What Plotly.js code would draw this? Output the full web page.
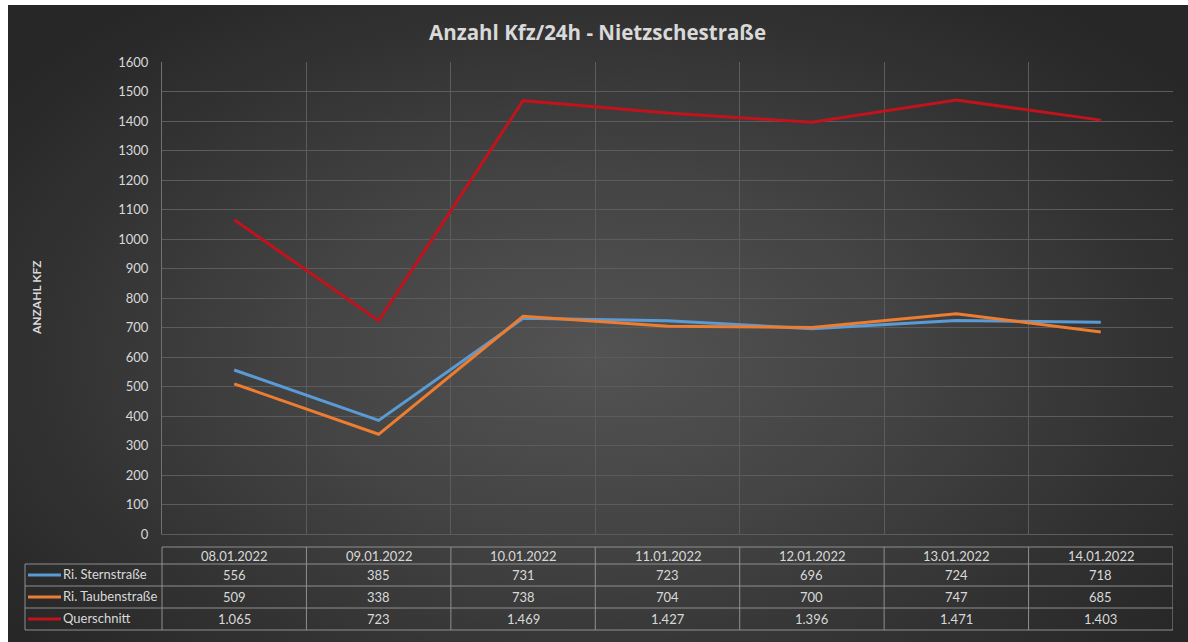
<!DOCTYPE html>
<html><head><meta charset="utf-8">
<script src="https://cdn.plot.ly/plotly-3.0.1.min.js"></script>
<style>
html,body{margin:0;padding:0;background:#fff;}
#bg{position:absolute;left:8px;top:5px;width:1180px;height:637px;
background:radial-gradient(ellipse 62% 70% at 50% 55%, #535353 0%, #444444 40%, #323232 75%, #272727 100%);}
#chart{position:absolute;left:0;top:0;width:1188px;height:642px;}
</style></head>
<body><div id="bg"></div><div id="chart"></div>
<script>
const categories = ["08.01.2022","09.01.2022","10.01.2022","11.01.2022","12.01.2022","13.01.2022","14.01.2022"];
const sternValues = [556,385,731,723,696,724,718];
const taubenValues = [509,338,738,704,700,747,685];
const querValues = [1065,723,1469,1427,1396,1471,1403];
const seriesNames = ["Ri. Sternstraße","Ri. Taubenstraße","Querschnitt"];
const seriesColors = ["#5b9bd5","#ed7d31","#c0131c"];
const yTicks = [0,100,200,300,400,500,600,700,800,900,1000,1100,1200,1300,1400,1500,1600];

const W=1188,H=642,L=162,R=15,T=62,B=108;
const PW=W-L-R, PH=H-T-B;
const px=x=>(x-L)/PW;
const py=y=>(H-B-y)/PH;
function fmt(v){const s=String(v);return s.length>3? s.slice(0,s.length-3)+"."+s.slice(-3):s;}

const allSeries=[sternValues,taubenValues,querValues];
const traces=allSeries.map((vals,i)=>({
  type:"scatter",mode:"lines",x:categories,y:vals,name:seriesNames[i],
  line:{color:seriesColors[i],width:3},hoverinfo:"x+y+name"
}));

const txt="#d9d9d9", border="#8f8f8f", font="Lato, 'Open Sans', sans-serif";
const shapes=[], annotations=[];
shapes.push({type:"line",xref:"paper",yref:"paper",x0:px(L),x1:px(1173),y0:py(547),y1:py(547),line:{color:border,width:1}});
[564,586,608,630].forEach(y=>shapes.push({type:"line",xref:"paper",yref:"paper",x0:px(25),x1:px(1173),y0:py(y),y1:py(y),line:{color:border,width:1}}));
shapes.push({type:"line",xref:"paper",yref:"paper",x0:px(25),x1:px(25),y0:py(564),y1:py(630),line:{color:border,width:1}});
shapes.push({type:"line",xref:"paper",yref:"paper",x0:px(L),x1:px(L),y0:py(547),y1:py(630),line:{color:border,width:1}});
for(let i=0;i<categories.length;i++){
  shapes.push({type:"line",xref:"x",yref:"paper",x0:i+0.5,x1:i+0.5,y0:py(547),y1:py(630),line:{color:border,width:1}});
}
categories.forEach((c,i)=>annotations.push({xref:"x",yref:"paper",x:i,y:py(555.5),text:c,showarrow:false,font:{family:font,size:13,color:txt},xanchor:"center",yanchor:"middle"}));
const rowCenters=[575,597,619];
allSeries.forEach((vals,r)=>{
  vals.forEach((v,i)=>annotations.push({xref:"x",yref:"paper",x:i,y:py(rowCenters[r]),text:fmt(v),showarrow:false,font:{family:font,size:13,color:txt},xanchor:"center",yanchor:"middle"}));
  shapes.push({type:"line",xref:"paper",yref:"paper",x0:px(28),x1:px(61),y0:py(rowCenters[r]),y1:py(rowCenters[r]),line:{color:seriesColors[r],width:3}});
  annotations.push({xref:"paper",yref:"paper",x:px(61),y:py(rowCenters[r]-1),text:seriesNames[r],showarrow:false,font:{family:font,size:13,color:txt},xanchor:"left",yanchor:"middle"});
});
annotations.push({xref:"paper",yref:"paper",x:px(36),y:py(298),text:"<b>ANZAHL KFZ</b>",textangle:-90,showarrow:false,font:{family:font,size:12,color:txt},xanchor:"center",yanchor:"middle"});

const layout={
  width:W,height:H,margin:{l:L,r:R,t:T,b:B},
  paper_bgcolor:"rgba(0,0,0,0)",plot_bgcolor:"rgba(0,0,0,0)",
  showlegend:false,
  title:{text:"<b>Anzahl Kfz/24h - Nietzschestraße</b>",x:0.503,xanchor:"center",y:1-33/H,yanchor:"middle",font:{family:"'Open Sans', Lato, sans-serif",size:20.5,color:txt}},
  xaxis:{type:"category",range:[-0.5,6.5],showticklabels:false,tickson:"boundaries",ticks:"",showgrid:true,gridcolor:"#5c5c5c",gridwidth:1,zeroline:false,showline:true,linecolor:"#5c5c5c",mirror:false,fixedrange:true},
  yaxis:{range:[0,1600],tickvals:yTicks,ticktext:yTicks.map(String),showgrid:true,gridcolor:"#5c5c5c",gridwidth:1,zeroline:false,showline:true,linecolor:"#707070",ticks:"",ticklen:0,ticklabelstandoff:10,tickfont:{family:font,size:13,color:txt},fixedrange:true},
  shapes:shapes,annotations:annotations,font:{family:font,color:txt}
};
Plotly.newPlot("chart",traces,layout,{displayModeBar:false,staticPlot:true});
</script></body></html>
